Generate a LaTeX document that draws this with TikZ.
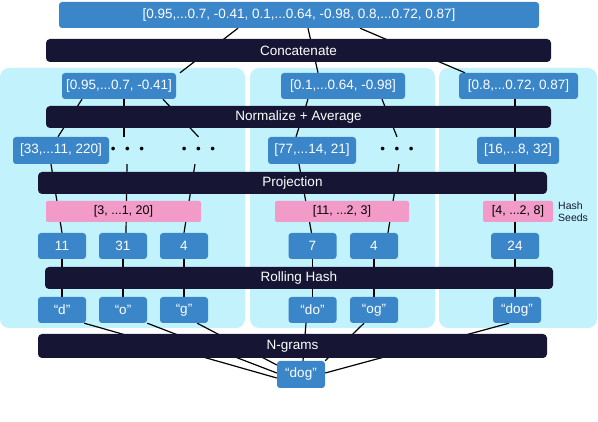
\documentclass[tikz,border=0pt]{standalone}
\usepackage{fontspec}
\setmainfont{Liberation Sans}
\usetikzlibrary{calc}

\pgfdeclarelayer{panels}
\pgfdeclarelayer{wires}
\pgfsetlayers{panels,wires,main}

\definecolor{vecblue}{HTML}{3B86C9}
\definecolor{barnavy}{HTML}{161634}
\definecolor{panelcyan}{HTML}{C2F2FC}
\definecolor{seedpink}{HTML}{F29BC8}

\tikzset{
  vecbox/.style={fill=vecblue, text=white, rounded corners=3pt, inner sep=0pt,
    minimum height=26pt, font=\fontsize{13.5}{16}\selectfont},
  bar/.style={fill=barnavy, text=white, rounded corners=4pt, inner sep=0pt,
    minimum height=22pt, font=\fontsize{13.5}{16}\selectfont},
  seedbox/.style={fill=seedpink, text=black, rounded corners=2pt, inner sep=0pt,
    minimum height=21pt, font=\fontsize{12.5}{15}\selectfont},
  dotrow/.style={inner sep=0pt, minimum width=34pt, minimum height=27pt,
    font=\fontsize{13.5}{16}\selectfont},
  wire/.style={line width=1.2pt, black},
  panel/.style={fill=panelcyan, rounded corners=9pt},
}

\begin{document}
\begin{tikzpicture}[x=1pt, y=-1pt]  % 1pt = 1 pixel, y downwards
  \useasboundingbox (0,0) rectangle (598,422);

  % concatenated vector
  \node[vecbox, minimum width=480pt] (vecAll) at (299,15)
    {[0.95,...0.7, -0.41, 0.1,...0.64, -0.98, 0.8,...0.72, 0.87]};
  \node[bar, minimum width=505pt, minimum height=23pt] (concat) at (298.5,50.5) {Concatenate};

  % one vector per panel
  \node[vecbox, minimum width=114pt] (vecL) at (119,86) {[0.95,...0.7, -0.41]};
  \node[vecbox, minimum width=124pt] (vecM) at (343,86) {[0.1,...0.64, -0.98]};
  \node[vecbox, minimum width=119pt] (vecR) at (518.5,86) {[0.8,...0.72, 0.87]};
  \node[bar, minimum width=505pt] (norm) at (298.5,117) {Normalize + Average};

  % projected vectors
  \node[vecbox, minimum width=96pt, minimum height=27pt] (projA) at (61,150.5) {[33,...11, 220]};
  \node[dotrow] (dotsA) at (127.5,150.5) {\textbullet\hspace{9.5pt}\textbullet\hspace{9.5pt}\textbullet};
  \node[dotrow] (dotsB) at (198.5,150.5) {\textbullet\hspace{9.5pt}\textbullet\hspace{9.5pt}\textbullet};
  \node[vecbox, minimum width=88pt, minimum height=27pt] (projD) at (312,150.5) {[77,...14, 21]};
  \node[dotrow] (dotsC) at (397,150.5) {\textbullet\hspace{9.5pt}\textbullet\hspace{9.5pt}\textbullet};
  \node[vecbox, minimum width=82pt, minimum height=27pt] (projF) at (518,150.5) {[16,...8, 32]};
  \node[bar, minimum width=509pt] (proj) at (292.5,183) {Projection};

  % hash seeds
  \node[seedbox, minimum width=155pt] (seedL) at (123.5,211.5) {[3, ...1, 20]};
  \node[seedbox, minimum width=134pt] (seedM) at (342,211.5) {[11, ...2, 3]};
  \node[seedbox, minimum width=70pt] (seedR) at (518,211.5) {[4, ...2, 8]};
  \node[anchor=west, align=left, inner sep=0pt, text=barnavy,
    font=\fontsize{10.5}{12}\selectfont] (seedLbl) at (558,212) {Hash\\Seeds};

  % hashes
  \foreach \n/\x/\t in {hA/62/11, hB/123/31, hC/184/4, hD/312.5/7, hE/374/4, hF/515/24}
    \node[vecbox, minimum width=48pt] (\n) at (\x,246) {\t};
  \node[bar, minimum width=508pt] (roll) at (299,278) {Rolling Hash};

  % n-grams
  \foreach \n/\x/\t in {gA/62/“d”, gB/123/“o”, gC/184/“g”, gD/312.5/“do”, gE/374/“og”, gF/517/“dog”}
    \node[vecbox, minimum width=48pt] (\n) at (\x,310) {\t};
  \node[bar, minimum width=509pt, minimum height=24pt] (ngram) at (292.5,346) {N-grams};
  \node[vecbox, minimum width=48pt, minimum height=27pt] (word) at (301,374.5) {“dog”};

  % panels behind everything
  \begin{pgfonlayer}{panels}
    \fill[panel] (0,68) rectangle (245,328);
    \fill[panel] (250,68) rectangle (435,328);
    \fill[panel] (439,68) rectangle (597,328);
  \end{pgfonlayer}

  % connectors, under the bars
  \begin{pgfonlayer}{wires}
    % word -> n-grams
    \draw[wire] ([xshift=-2pt]gA.south east) -- ([yshift=-3.5pt]word.west);
    \draw[wire] (gB.south east) -- ([yshift=1.5pt]word.west);
    \draw[wire] ([xshift=-11pt]gC.south east) -- ([yshift=9.5pt]word.west);
    \draw[wire] ([xshift=-6.5pt]gD.south) -- ([xshift=2pt]word.north);
    \draw[wire] ([xshift=-10pt]gE.south) -- (word.north east);
    \draw[wire] ([xshift=-8pt]gF.south) -- ([yshift=1.5pt]word.east);

    % n-grams -> hashes
    \foreach \g/\h in {gA/hA, gB/hB, gC/hC, gD/hD, gE/hE}
      \draw[wire] (\g.north) -- (\h.south);
    \draw[wire] (hF.south) -- (hF.south |- gF.north);

    % hashes -> projected vectors
    \draw[wire] (hA.north) -- ([xshift=-10pt]projA.south);
    \draw[wire] ([xshift=3pt]hB.north) -- ([xshift=-0.5pt]dotsA.south);
    \draw[wire] (hC.north) -- ([xshift=-3.5pt]dotsB.south);
    \draw[wire] ([xshift=-1pt]hD.north) -- ([xshift=-13pt]projD.south);
    \draw[wire] ([xshift=14pt]hE.north) -- ([xshift=2pt]dotsC.south);
    \draw[wire] (hF.north) -- (hF.north |- projF.south);

    % projected vectors -> panel vectors
    \draw[wire] ([xshift=-3pt]projA.north) -- ([xshift=-37pt]vecL.south);
    \draw[wire] ([xshift=-3.5pt]dotsA.north) -- ([xshift=5pt]vecL.south);
    \draw[wire] (dotsB.north) -- ([xshift=44pt]vecL.south);
    \draw[wire] ([xshift=-16pt]projD.north) -- ([xshift=-35pt]vecM.south);
    \draw[wire] (dotsC.north) -- ([xshift=39pt]vecM.south);
    \draw[wire] (hF |- projF.north) -- (hF |- vecR.south);

    % panel vectors -> concatenated vector
    \draw[wire] ([xshift=61pt]vecL.north) -- ([xshift=-61pt]vecAll.south);
    \draw[wire] ([xshift=-25pt]vecM.north) -- ([xshift=9pt]vecAll.south);
    \draw[wire] ([xshift=-53.5pt]vecR.north) -- ([xshift=61pt]vecAll.south);
  \end{pgfonlayer}
\end{tikzpicture}
\end{document}
